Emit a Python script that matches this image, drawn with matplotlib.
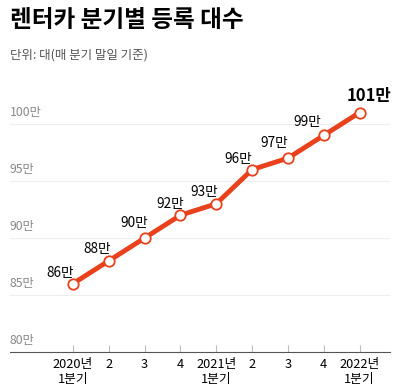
import matplotlib
matplotlib.use("Agg")
import matplotlib.pyplot as plt

plt.rcParams['font.family'] = ['Noto Sans CJK KR', 'DejaVu Sans']

# data (만 대)
quarters = ['2020년\n1분기', '2', '3', '4', '2021년\n1분기', '2', '3', '4', '2022년\n1분기']
values = [86, 88, 90, 92, 93, 96, 97, 99, 101]
yticks = [80, 85, 90, 95, 100]
# label offsets in pixels (dx, dy)
offsets = [(-13, 11), (-12, 12), (-10, 15), (-10, 11), (-12, 12), (-14, 11), (-14, 15), (-16, 13), (9, 17)]

red = '#e8411c'

fig = plt.figure(figsize=(4, 3.9), dpi=100)
ax = fig.add_axes([0.025, 0.0974, 0.95, 0.731])

x = list(range(len(values)))
ax.plot(x, values, color=red, lw=3.5, zorder=3, solid_capstyle='round')
ax.plot(x, values, 'o', ms=7.5, mfc='white', mec=red, mew=1.3, zorder=4)

for i, v in enumerate(values):
    dx, dy = offsets[i]
    last = i == len(values) - 1
    ax.annotate(f'{v}만', (i, v), xytext=(dx, dy), textcoords='offset pixels',
                ha='center', va='center', fontsize=12 if last else 9.8,
                fontweight='heavy' if last else 'normal', color='black')

ax.set_xlim(-1.76, 8.85)
ax.set_ylim(80, 105)

for t in yticks:
    if t > 80:
        ax.axhline(t, color='#eeeeee', lw=0.8, zorder=1)
    ax.text(-1.76, t + 0.45, f'{t}만', ha='left', va='bottom', fontsize=8.8, color='#888888')

ax.set_yticks([])
ax.set_xticks(x)
ax.set_xticklabels(quarters, fontsize=9.2, linespacing=1.2)
ax.tick_params(axis='x', direction='in', length=5, color='#bbbbbb', pad=4)
for s in ['top', 'right', 'left']:
    ax.spines[s].set_visible(False)
ax.spines['bottom'].set_color('#555555')
ax.spines['bottom'].set_linewidth(0.8)

fig.text(0.025, 0.948, '렌터카 분기별 등록 대수', fontsize=17, fontweight='heavy', va='center', ha='left')
fig.text(0.025, 0.86, '단위: 대(매 분기 말일 기준)', fontsize=9, color='#555555', va='center', ha='left')

fig.savefig('out.png', dpi=100)
